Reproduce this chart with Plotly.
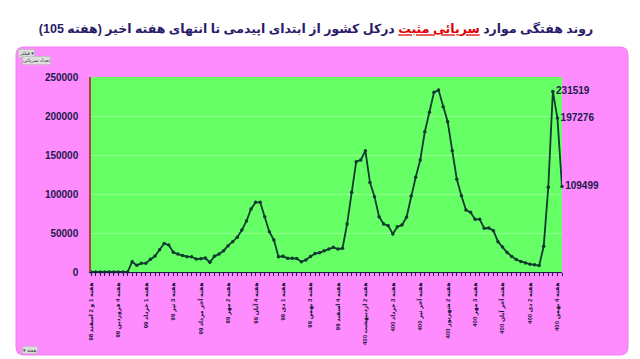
import plotly.graph_objects as go

# ---- data ----
week_numbers = list(range(2, 106))  # week "1 & 2" ... week 105
cases = [
    0, 0, 0, 0, 0, 0, 0, 0, 0,
    13200, 8500, 11100, 11300, 16200, 20500, 28500, 36500, 34600, 25200,
    23000, 21000, 19600, 19500, 16700, 17000, 17900, 12400, 20100, 23000,
    27300, 33700, 38900, 44500, 53800, 65400, 80800, 89300, 89300, 70900,
    51700, 41000, 19600, 20100, 17500, 17500, 17300, 13200, 15400, 20000,
    23700, 24800, 27300, 29500, 31600, 29500, 30300, 61500, 102100, 141400,
    143600, 155500, 114900, 96600, 70900, 61500, 59400, 48700, 58100, 60300,
    70100, 97400, 121400, 143600, 179900, 204700, 230300, 233300, 211900, 192700,
    155500, 118800, 97800, 79500, 76500, 67500, 67500, 56000, 56400, 53000,
    38900, 32000, 25000, 20000, 16000, 13500, 11500, 10000, 9200, 8200,
    33000, 108600, 231519, 197276, 109499,
]
label_weeks = [2, 8, 14, 20, 26, 32, 38, 44, 50, 56, 62, 68, 74, 80, 86, 92, 98, 104]
label_texts = [
    "هفته 1 و 2 اسفند 98",
    "هفته 4 فروردین 99",
    "هفته 1 خرداد 99",
    "هفته 3 تیر 99",
    "هفته آخر مرداد 99",
    "هفته 2 مهر 99",
    "هفته 4 آبان 99",
    "هفته 1 دی 99",
    "هفته 3 بهمن 99",
    "هفته 4 اسفند 99",
    "هفته 2 اردیبهشت 400",
    "هفته 3 خرداد 400",
    "هفته آخر تیر 400",
    "هفته 2 شهریور 400",
    "هفته 3 مهر 400",
    "هفته آخر آبان 400",
    "هفته 2 دی 400",
    "هفته 4 بهمن 400",
]
labelled_last = 3  # value labels on the last points

# ---- geometry helpers (pixel -> paper) ----
W, H = 640, 359
ML, MR, MT, MB = 91, 78, 77, 87
PW, PH = W - ML - MR, H - MT - MB


def px(x):
    return (x - ML) / PW


def py(y):
    return (H - MB - y) / PH


def rounded_rect(x0, y0, x1, y1, r):
    rx, ry = r / PW, r / PH
    X0, X1, Y0, Y1 = px(x0), px(x1), py(y1), py(y0)
    return (
        f"M{X0+rx},{Y0} L{X1-rx},{Y0} Q{X1},{Y0} {X1},{Y0+ry} "
        f"L{X1},{Y1-ry} Q{X1},{Y1} {X1-rx},{Y1} L{X0+rx},{Y1} "
        f"Q{X0},{Y1} {X0},{Y1-ry} L{X0},{Y0+ry} Q{X0},{Y0} {X0+rx},{Y0} Z"
    )


NAVY = "#1c1a4a"
LINE = "#103a30"
FONT = "Liberation Sans, DejaVu Sans, sans-serif"

tick_vals = week_numbers
tick_text = []
for w in week_numbers:
    tick_text.append(label_texts[label_weeks.index(w)] if w in label_weeks else " ")

point_text = [" "] * (len(cases) - labelled_last) + [str(v) for v in cases[-labelled_last:]]

fig = go.Figure()
fig.add_trace(go.Scatter(
    x=week_numbers, y=cases,
    mode="lines+markers+text",
    line=dict(color=LINE, width=1.8),
    marker=dict(color=LINE, size=3.5),
    text=point_text, textposition="middle right",
    textfont=dict(family=FONT, size=10, color=NAVY, weight="bold"),
    cliponaxis=False,
    hoverinfo="x+y",
))

title_text = (
    "<b>روند هفتگی موارد "
    "<span style='color:#e00000;text-decoration:underline'>سرپائی مثبت</span>"
    " درکل کشور از ابتدای اپیدمی تا انتهای هفته اخیر (هفته 105)</b>\u200f"
)

shapes = [
    dict(type="path", xref="paper", yref="paper", layer="below",
         path=rounded_rect(16, 47, 628, 355, 8),
         fillcolor="#ff8cff", line=dict(color="#f07af0", width=1)),
    dict(type="rect", xref="paper", yref="paper", layer="below",
         x0=0, x1=1, y0=0, y1=1, fillcolor="#66ff66", line=dict(width=0)),
]

btn_font = dict(family=FONT, size=5, color="#333333")
annotations = [
    dict(text="فیلتر ▾", xref="paper", yref="paper", x=px(18), y=py(49),
         xanchor="left", yanchor="top", showarrow=False, font=btn_font,
         bgcolor="#dedede", bordercolor="#aaaaaa", borderwidth=0.5, borderpad=0.5),
    dict(text="تعداد سرپائی", xref="paper", yref="paper", x=px(22), y=py(56),
         xanchor="left", yanchor="top", showarrow=False, font=btn_font,
         bgcolor="#dedede", bordercolor="#aaaaaa", borderwidth=0.5, borderpad=0.5),
    dict(text="▾ هفته", xref="paper", yref="paper", x=px(22), y=py(346),
         xanchor="left", yanchor="top", showarrow=False, font=btn_font,
         bgcolor="#dedede", bordercolor="#aaaaaa", borderwidth=0.5, borderpad=0.5),
]

fig.update_layout(
    width=W, height=H,
    margin=dict(l=ML, r=MR, t=MT, b=MB),
    paper_bgcolor="white",
    plot_bgcolor="#66ff66",
    showlegend=False,
    title=dict(text=title_text, x=316 / W, xanchor="center", y=1 - 29 / H, yanchor="middle",
               xref="container", yref="container", automargin=False,
               font=dict(family=FONT, size=12.5, color="#2a1a6a")),
    shapes=shapes,
    annotations=annotations,
    xaxis=dict(
        range=[week_numbers[0], week_numbers[-1]],
        tickmode="array", tickvals=tick_vals, ticktext=tick_text,
        tickangle=-90, ticks="outside", ticklen=3, tickwidth=1, tickcolor=NAVY,
        ticklabelstandoff=4, automargin=False,
        showline=True, linecolor=NAVY, linewidth=1,
        showgrid=False, zeroline=False,
        tickfont=dict(family=FONT, size=6, color="#141230", weight="bold"),
    ),
    yaxis=dict(
        range=[0, 250000], tickmode="linear", tick0=0, dtick=50000, tickformat="d",
        showline=True, linecolor="#b8403a", linewidth=1.5, automargin=False,
        showgrid=True, gridcolor="#90ff90", gridwidth=1,
        zeroline=False, ticks="", ticklabelstandoff=9,
        tickfont=dict(family=FONT, size=10, color=NAVY, weight="bold"),
    ),
)

fig.write_html("out.html", config={"displayModeBar": False},
               post_script="document.body.style.margin='0';")
